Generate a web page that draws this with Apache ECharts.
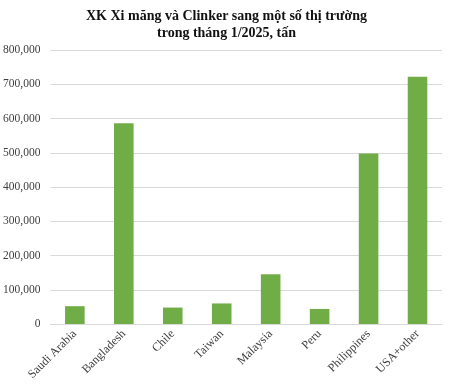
<!DOCTYPE html>
<html><head><meta charset="utf-8">
<script src="https://cdn.jsdelivr.net/npm/echarts@6/dist/echarts.min.js"></script>
<style>html,body{margin:0;padding:0;background:#fff}#c{width:453px;height:384px}</style>
</head><body><div id="c"></div>
<script>
const categories = ['Saudi Arabia','Bangladesh','Chile','Taiwan','Malaysia','Peru','Philippines','USA+other'];
const values = [52000, 586000, 48000, 60000, 145000, 44000, 498000, 722000];
const titleText = 'XK Xi măng và Clinker sang một số thị trường\ntrong tháng 1/2025, tấn';

const chart = echarts.init(document.getElementById('c'));
chart.setOption({
  animation: false,
  title: {
    text: titleText, left: 'center', top: 3,
    textStyle: {fontFamily: 'Liberation Serif', fontWeight: 'bold', fontSize: 14, color: '#111', lineHeight: 17}
  },
  grid: {left: 48, right: 11, top: 50, bottom: 60},
  xAxis: {
    type: 'category', data: categories,
    axisLine: {lineStyle: {color: '#d9d9d9'}},
    axisTick: {show: false},
    axisLabel: {rotate: 45, interval: 0, color: '#404040', fontFamily: 'Liberation Serif', fontSize: 12, margin: 8}
  },
  yAxis: {
    type: 'value', min: 0, max: 800000, interval: 100000,
    axisLine: {show: false}, axisTick: {show: false},
    splitLine: {lineStyle: {color: '#d9d9d9'}},
    axisLabel: {color: '#404040', fontFamily: 'Liberation Serif', fontSize: 11.5, margin: 10,
      formatter: v => v.toLocaleString('en-US')}
  },
  series: [{
    type: 'bar', data: values, barWidth: '40%',
    itemStyle: {color: '#70ad47'}
  }]
});
</script></body></html>
